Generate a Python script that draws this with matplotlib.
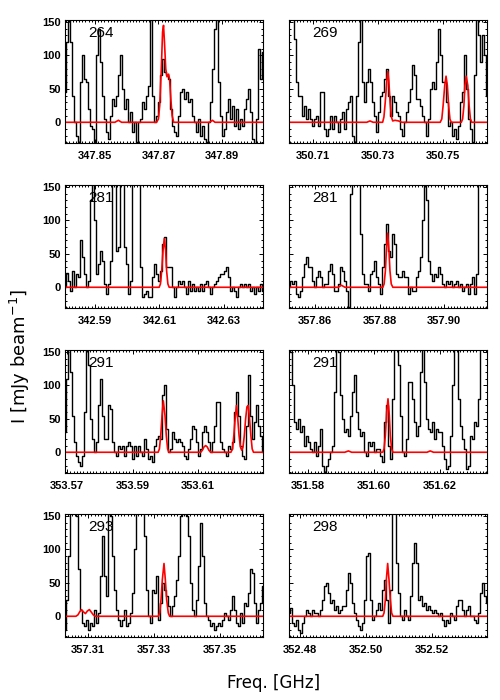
import numpy as np
import matplotlib
matplotlib.use('Agg')
import matplotlib.pyplot as plt
from matplotlib.ticker import MultipleLocator, FormatStrFormatter

# panel ids and frequency ranges [GHz]
ids = ['264', '269', '281', '281', '291', '291', '293', '298']
f_lo = [347.8406, 350.7026, 342.5808, 357.8520, 353.5694, 351.5742, 357.3030, 352.4767]
f_hi = [347.9029, 350.7635, 342.6420, 357.9132, 353.6298, 351.6342, 357.3630, 352.5367]
xticks = [[347.85, 347.87, 347.89], [350.71, 350.73, 350.75],
          [342.59, 342.61, 342.63], [357.86, 357.88, 357.90],
          [353.57, 353.59, 353.61], [351.58, 351.60, 351.62],
          [357.31, 357.33, 357.35], [352.48, 352.50, 352.52]]

# observed spectra [mJy/beam], evenly spaced channels across each panel
spec1 = [45, 120, 200, 120, 40, 0, -20, -35, 60, 100, 65, 60, 20, -5, -10, -35, 100, 140, 90, 40,
         5, -15, -25, 10, 35, 25, 40, 70, 100, 50, 20, 35, 0, 15, -15, 0, -30, 0, 5, 30,
         20, 40, 55, 160, 40, 0, 10, 30, 70, 95, 75, 70, 65, 20, -5, -15, -20, 10, 45, 50,
         35, 45, 30, 35, 10, 0, -15, 5, -20, -5, -25, -30, 0, 30, 80, 140, 160, 60, 10, -20,
         -10, 15, 35, 5, 25, -5, 20, -10, 5, -5, 20, 35, 50, 15, -25, -35, 5, 110, 65, 105]
spec2 = [160, 160, 160, 125, 60, 40, 40, 10, 25, 5, 20, 5, -5, 5, 10, -5, 45, 45, -10, -20,
         -10, 10, -10, 10, 0, -15, 5, 15, -10, 20, 30, 40, -20, -30, 40, 120, 160, 60, 30, 60,
         80, 60, 30, 10, -15, 15, 40, 45, 65, 80, 40, 10, 40, 30, 15, 10, -10, -20, 0, 15,
         30, 50, 85, 70, 35, 35, 25, 10, 0, -20, 5, 50, 60, 50, 90, 140, 100, 60, 60, 30,
         -5, 0, -20, -10, -25, -5, 30, 45, 100, 50, 5, -10, -30, 70, 160, 130, 90, 130, 100, 40]
spec3 = [0, 22, 10, -5, 25, 0, 20, 15, 70, 45, 20, 0, 10, 130, 160, 100, 20, 35, 55, 40,
         5, -10, 5, 40, 160, 160, 55, 60, 160, 160, 60, 35, -10, 10, 160, 160, 160, 160, 30, -15,
         -10, -5, -15, -15, 15, 35, 20, 10, 25, 65, 75, 30, 30, 30, 0, -15, 0, 10, 5, 10,
         0, -10, 10, -5, 5, -5, 0, -5, 5, -5, 5, 10, 0, -10, 0, 5, 10, 15, 20, 20,
         25, 30, 15, -5, 0, -5, -15, 0, 5, 0, 5, 0, 5, -5, 0, -10, 0, -5, 5, -5]
spec4 = [0, 10, 5, 10, -10, -15, -5, 15, 35, 45, 30, 30, 10, 0, 15, 25, 15, 0, 5, 5,
         25, 35, 20, -5, -5, 5, 30, 25, 10, -5, -30, 140, 160, 160, 160, 160, 80, 20, 5, 5,
         -5, 20, 25, 40, 15, 5, -10, 30, 65, 95, 55, 45, 80, 65, 20, 15, 15, 25, 15, 15,
         -10, 0, -5, -5, 15, 25, 45, 100, 160, 130, 40, 20, 10, 20, 15, 30, 20, 5, 0, 10,
         5, 10, 0, 5, 10, 0, 5, -5, 0, 5, -10, 5, 15, -10, 20, 160, 160, 160, 160, 160]
spec5 = [30, 110, 160, 120, 55, 15, -5, -15, -20, -5, 60, 160, 130, 50, 20, 0, 15, 70, 110, 55,
         20, 20, 70, 65, 15, 0, -5, 10, 5, 10, -5, 10, 15, 10, -10, 10, -5, 10, 0, -5,
         20, 5, -10, -5, -15, 10, 20, 25, 20, 85, 100, 35, 0, 5, 30, 20, 15, 20, 15, 10,
         -5, -10, 5, 20, 40, 35, 15, -5, 5, 30, 40, 30, 15, 0, 15, 40, 75, 75, 15, 5,
         0, -5, 10, 5, 15, 60, 90, 55, 10, -5, -10, 40, 115, 55, 20, 45, 70, 40, 25, 0]
spec6 = [160, 150, 100, 45, 35, 50, 30, 40, 10, 25, 15, 5, 0, 15, -5, 10, 35, -20, -30, -20,
         -10, 0, 10, 90, 160, 150, 85, 50, 30, 35, 25, 55, 90, 115, 60, 35, 25, 30, 0, -5,
         15, 10, 15, 0, 5, 5, -5, -15, 45, 70, 10, -10, 80, 160, 160, 130, 55, 0, -5, 20,
         105, 105, 80, 45, 25, 40, 120, 160, 105, 50, 35, 30, 45, 20, 35, 30, 30, 10, -10, -25,
         -20, 25, 100, 160, 160, 80, 40, 20, 5, -25, -20, 25, 20, 45, 40, 80, 160, 160, 160, 160]
spec7 = [-20, 25, 90, 160, 160, 160, 150, 70, 10, -10, -15, -5, -20, -10, -15, 10, -10, 5, 60, 120,
         60, 30, 160, 150, 90, 40, 10, -5, -15, -5, 10, -15, -10, 5, 35, 100, 160, 160, 160, 160,
         120, 40, 0, -10, 40, 35, 60, -5, 20, 50, 40, 30, 15, 0, 15, 30, 55, 90, 150, 160,
         160, 150, 120, 50, 10, 0, 25, 75, 140, 90, 20, 0, -5, -15, -10, -20, -15, -10, -15, -5,
         5, 0, -5, 10, 30, 10, -10, -15, 5, -10, 20, 15, 35, 70, 65, 20, -10, 10, 20, 45]
spec8 = [5, 12, -10, -15, -5, -20, -25, -10, 0, 10, 5, 0, 10, 5, 5, 0, 10, 25, 45, 50,
         35, 20, 25, 10, 15, 5, 10, 15, 15, 40, 65, 50, 20, 5, -5, -15, -20, -10, 25, 90,
         95, 25, -5, 0, 10, 20, 10, 40, 55, 25, -10, 40, 160, 160, 80, 35, 0, -5, 10, 0,
         -5, 30, 80, 110, 80, 25, 30, 15, 20, 10, 15, 10, 5, 10, 5, 0, 5, -5, -15, -5,
         -10, 5, 0, -5, 15, 25, 25, 10, 0, 10, 15, 0, 0, -5, -10, 5, 35, 50, 30, 20]

# model spectra (red): frequency [GHz] and intensity [mJy/beam]
mod1_f = [347.8406, 347.8563, 347.8574, 347.8584, 347.8694, 347.8700, 347.8704, 347.8709, 347.8713,
          347.8716, 347.8719, 347.8723, 347.8727, 347.8732, 347.8735, 347.8739, 347.8743, 347.8748,
          347.8861, 347.8870, 347.8878, 347.9029]
mod1_v = [0, 0, 3, 0, 0, 5, 25, 80, 135, 145, 120, 80, 68, 72, 65, 35, 10, 0, 0, 3, 0, 0]
mod2_f = [350.7026, 350.7265, 350.7275, 350.7285, 350.7314, 350.7318, 350.7322, 350.7327, 350.7330,
          350.7333, 350.7337, 350.7341, 350.7345, 350.7352, 350.7363, 350.7373, 350.7491, 350.7496,
          350.7500, 350.7505, 350.7509, 350.7513, 350.7517, 350.7521, 350.7525, 350.7556, 350.7560,
          350.7564, 350.7567, 350.7571, 350.7576, 350.7580, 350.7584, 350.7588, 350.7635]
mod2_v = [0, 0, 2, 0, 0, 8, 30, 62, 76, 62, 30, 8, 2, 3, 2, 0, 0, 5, 25, 55, 69, 55, 25, 5, 0,
          0, 5, 25, 55, 69, 55, 25, 5, 0, 0]
mod3_f = [342.5808, 342.6099, 342.6103, 342.6107, 342.6111, 342.6115, 342.6119, 342.6122, 342.6126,
          342.6130, 342.6420]
mod3_v = [0, 0, 5, 25, 55, 73, 55, 25, 5, 0, 0]
mod4_f = [357.8520, 357.8672, 357.8682, 357.8693, 357.8810, 357.8814, 357.8818, 357.8821, 357.8825,
          357.8829, 357.8832, 357.8836, 357.8841, 357.9132]
mod4_v = [0, 0, 3, 0, 0, 5, 25, 55, 81, 55, 25, 5, 0, 0]
mod5_f = [353.5694, 353.5978, 353.5982, 353.5986, 353.5990, 353.5994, 353.5999, 353.6003, 353.6007,
          353.6011, 353.6108, 353.6113, 353.6118, 353.6123, 353.6128, 353.6133, 353.6139, 353.6200,
          353.6205, 353.6209, 353.6213, 353.6217, 353.6221, 353.6225, 353.6229, 353.6233, 353.6237,
          353.6241, 353.6245, 353.6249, 353.6253, 353.6257, 353.6261, 353.6265, 353.6269, 353.6298]
mod5_v = [0, 0, 5, 25, 55, 77, 55, 25, 5, 0, 0, 3, 8, 10, 8, 3, 0, 0, 5, 25, 50, 70, 50, 25, 8,
          3, 8, 25, 50, 68, 70, 50, 25, 5, 0, 0]
mod6_f = [351.5742, 351.5911, 351.5922, 351.5932, 351.6026, 351.6030, 351.6034, 351.6038, 351.6042,
          351.6046, 351.6049, 351.6053, 351.6057, 351.6160, 351.6170, 351.6180, 351.6342]
mod6_v = [0, 0, 2, 0, 0, 5, 25, 60, 80, 55, 25, 5, 0, 0, 2, 0, 0]
mod7_f = [357.3030, 357.3063, 357.3069, 357.3075, 357.3080, 357.3085, 357.3092, 357.3098, 357.3104,
          357.3110, 357.3116, 357.3122, 357.3313, 357.3317, 357.3321, 357.3325, 357.3330, 357.3334,
          357.3338, 357.3343, 357.3347, 357.3630]
mod7_v = [0, 0, 2, 7, 10, 7, 4, 8, 10, 6, 2, 0, 0, 5, 25, 55, 79, 55, 25, 5, 0, 0]
mod8_f = [352.4767, 352.5051, 352.5055, 352.5059, 352.5062, 352.5066, 352.5070, 352.5074, 352.5078,
          352.5082, 352.5367]
mod8_v = [0, 0, 5, 25, 55, 79, 55, 25, 5, 0, 0]

specs = [spec1, spec2, spec3, spec4, spec5, spec6, spec7, spec8]
mods = [(mod1_f, mod1_v), (mod2_f, mod2_v), (mod3_f, mod3_v), (mod4_f, mod4_v),
        (mod5_f, mod5_v), (mod6_f, mod6_v), (mod7_f, mod7_v), (mod8_f, mod8_v)]

fig = plt.figure(figsize=(5, 7), dpi=100)

lefts = [0.130, 0.578]
bottoms = [0.7957, 0.560, 0.3243, 0.090]
w, h = 0.396, 0.1757

for k in range(8):
    row, col = k // 2, k % 2
    ax = fig.add_axes([lefts[col], bottoms[row], w, h])
    freq = np.linspace(f_lo[k], f_hi[k], len(specs[k]))
    # histogram-style spectrum, model on top
    ax.plot(freq, specs[k], color='black', lw=1.0, drawstyle='steps-mid')
    ax.plot(mods[k][0], mods[k][1], color='red', lw=1.2)
    ax.set_xlim(f_lo[k], f_hi[k])
    ax.set_ylim(-31, 153)
    ax.set_xticks(xticks[k])
    ax.xaxis.set_major_formatter(FormatStrFormatter('%.2f'))
    ax.xaxis.set_minor_locator(MultipleLocator(0.001))
    ax.yaxis.set_major_locator(MultipleLocator(50))
    ax.yaxis.set_minor_locator(MultipleLocator(10))
    ax.tick_params(which='both', direction='in', top=True, right=True, width=0.7)
    ax.tick_params(which='major', length=3)
    ax.tick_params(which='minor', length=1.5)
    ax.tick_params(axis='x', pad=6)
    ax.tick_params(axis='y', pad=3)
    for lab in ax.get_xticklabels() + ax.get_yticklabels():
        lab.set_fontfamily('Liberation Sans')
        lab.set_fontweight('bold')
        lab.set_fontsize(8)
    if col == 1:
        ax.set_yticklabels([])
    for s in ax.spines.values():
        s.set_linewidth(0.8)
    ax.text(0.115, 0.95, ids[k], transform=ax.transAxes, ha='left', va='top',
            fontsize=11, family='Liberation Sans')

fig.text(0.548, 0.025, 'Freq. [GHz]', ha='center', va='center', fontsize=12)
fig.text(0.04, 0.491, r'I [mJy beam$^{-1}$]', ha='center', va='center',
         rotation=90, fontsize=13)

fig.savefig('out.png', dpi=100)
